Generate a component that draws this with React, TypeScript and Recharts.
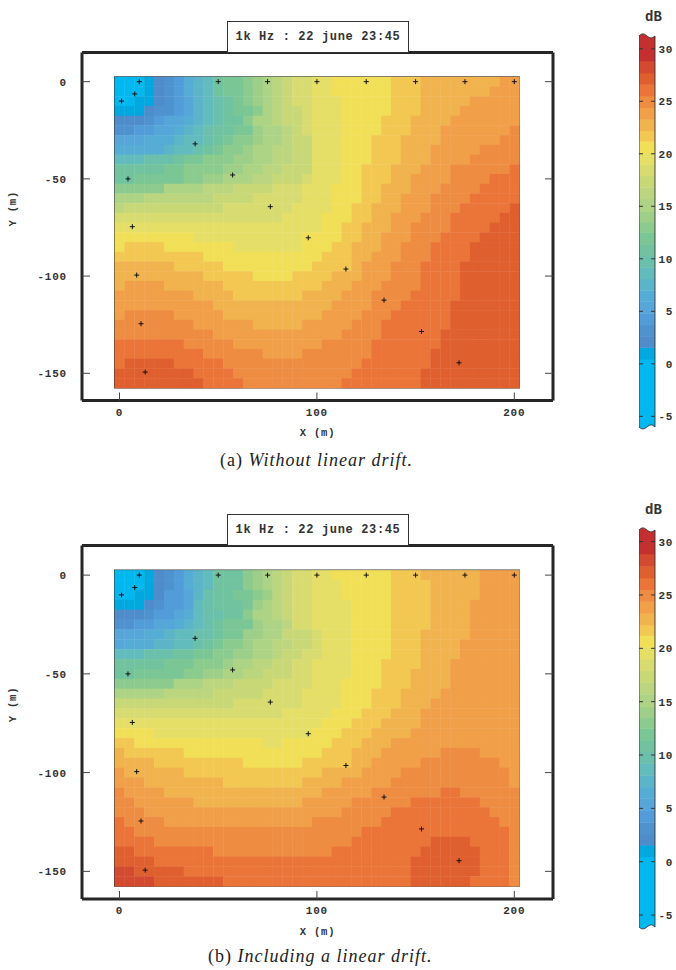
import { ScatterChart, Scatter, XAxis, YAxis, ReferenceArea, ComposedChart, Line } from 'recharts';

// colour bands, coldest first: one letter per band
const bandKeys = 'abcdefghijklmnopqrstuvwxyzAB';
const bandEdges = [-6.4, 0.45, 1.56, 2.6, 3.7, 4.8, 5.95, 7, 8.1, 9.2, 10.3, 11.4, 12.5, 13.5, 14.5, 15.7, 16.8, 17.9, 19, 20.1, 21.2, 22.2, 23.3, 24.4, 25.5, 26.6, 27.7, 28.85, 31.5];
const bandColors = [
  '#00B8F0', '#00A8E0', '#4E8CCB', '#4E92D0', '#529CDA', '#56A6DA', '#55ACD5', '#5CB4C8', '#62BBBC', '#6BC0AC',
  '#70C39E', '#7AC695', '#8CCB8E', '#9DCF88', '#ADD384', '#BBD67E', '#C9D877', '#D8DB70', '#E5DE67', '#F1DF58',
  '#F3C852', '#F0B34E', '#F19F48', '#EE8C41', '#EB7439', '#E05F2E', '#D34A2F', '#C4302F',
];

// sound level per row of the 5 m grid, y = 0 first, as runs of band letter + count
const rowsNoDrift = [
  'a3b1c1d1e1g1h1i1k1l2m1n1o1p1q1r2s2t6u3v8w2',
  'a3b1c1d1e1g1h1i1k1l2m1n1o1p1q1r2s2t6u3v7w3',
  'a2b2c1d1e1f1h1i1j1k1l1m1n1o1p1q1r2s3t5u3v5w5',
  'b3c1d2e1f1h1i1j1k1l2m1o1p1q2r1s3t5u3v4w6',
  'c3d1e1f2g1h1i1j1k2m1o2p1q2r1s3t4u3v4w7',
  'd2e2f2g1h1i1j1k2l2n1o2p1q1r1s3t4u3v3w7x1',
  'f3g3h1i2j1k1l1m2n1o2p1q2s3t3u3v4w6x2',
  'g5h1i2j1k1l1m2n1o2p2q2s3t3u3v3w5x4',
  'i3j3k1l2m3n2o2p2q2s3t3u3v3w4x5',
  'k5l2m4n2o2p2q3s3t2u3v3w3x6y1',
  'k2l5m2n2o3p2q3r1s3t2u3v2w4x4y3',
  'm5o4p3q4r3s1s2t3u2v3w3x4y4',
  'o3p7q4r5s1s2t3u2v2w3x4y5',
  'p1q10r7s2s2t2u2v3w3x3y5z1',
  'r17s3s1t3u2v2w3x3y5z2',
  's20s1t2u2v3w2x4y4z3',
  't8s11t1t3u2v2w3x3y4z4',
  't1u4t7s7t1t2u2v3w2x3y4z5',
  'u9t11t1u3v2w3x3y4z5',
  'v6u5t9u4v1w3x3y4z6',
  'v9u5t4u2u2v3w3x3y4z6',
  'v1w4v6u9u1v3w3x4y4z6',
  'w8v4u7v1v3w3x4y5z6',
  'w10v10v2w4x3y5z7',
  'w1x5w5v9v1w4x3y6z7',
  'x8w6v5w1w4x3y7z7',
  'x10w10w3x4y6z8',
  'y7x5w8w1x5y7z8',
  'y9x6w4x1x6y6z9',
  'y1z5y5x9x5y7z9',
  'z8y4x8x4y7z10',
  'z9y4x7x3y8z10',
];

const rowsWithDrift = [
  'a3b1c1d1e1g1h1i1k3m1n1o1p1q1r2s2t6u3v6w4',
  'a3b1c1d1e1g1h1i1k3m1n1o1p1q1r2s3t5u4v5w4',
  'a2b2c1e2f1h1j1k2l2m1n1p1q1r2s3t5u4v5w4',
  'b3c1d1e2f1i1j1k3l1n1o1p1q1r2s4t4u4v4w5',
  'c3d1e2f1g1i1j2k2m1o2p1q1r2s4t4u4v4w5',
  'd2e2f2g1h1i1j1k1l3n1o2p1r2s4t4u4v4w5',
  'f3g2h1i2j2k1l2n2o2q3r1s3t4u3v5w5',
  'f1g3h2i2j1k1l1m2n1o2p2q2r1s3t4u3v4w6',
  'i3j3k2l2m2n2o2p1q2r1r1s3t4u3v4w6',
  'k5l3m3n1o2p2q2r2s4t3u4v3w7',
  'k2l5m2n2o2p2q3r2s4t3u3v4w7',
  'm6o3p3q4r4s3t4u3v4w7',
  'o5p5q5r4s1s3t3u3v4w8',
  'q12r7s1s3t3u3v3w9',
  'r17s3s2t3u3v3w10',
  's20s1t3u3v4w10',
  't4s16t3u3v4w11',
  'u2t13s2t3t2u3v3w13',
  'v1u6t13t1u3v3w6x4w4',
  'v4u9t6u1u4v2w5x8w2',
  'w1v6u13u1v4w4x11w1',
  'w3v8u8v1v3w5x12w1',
  'x1w4v15v1w5x7y2x6',
  'x2w6v11w1w4x6y7x4',
  'x3w17w3x5y10x3',
  'y1x4w15x7y12x2',
  'y2x18x5y15x1',
  'y4x16x4y8z4y4x1',
  'z2y8x10x2y9z6y3x1',
  'z4y16y10z7y3x1',
  'A2z5y13y10z7y3x1',
  'A4z7y9y10z6y4x1',
];

// microphone positions, same in both panels
const micX = [10, 50, 75, 100, 125, 150, 175, 200, 1, 7.7, 38.3, 4.3, 57.3, 76.4, 6.5, 95.6, 8.7, 10.9, 13, 114.7, 134, 153, 172];
const micY = [0, 0, 0, 0, 0, 0, 0, 0, -10, -6.3, -32, -50, -48, -64.3, -74.6, -80.3, -99.5, -124.5, -149.4, -96.4, -112.4, -128.5, -144.6];

const xTicks = [0, 100, 200];
const yTicks = [0, -50, -100, -150];
const barTicks = [-5, 0, 5, 10, 15, 20, 25, 30];
const titleText = '1k Hz : 22 june 23:45';

const monoFont = '"Liberation Mono", monospace';
const xDomain: [number, number] = [-19, 219.6];
const yDomain: [number, number] = [-164, 15];
const BOX_W = 471;
const dark = '#262626';

function decodeRows(rows: string[]) {
  const cells: { x: number; y: number; band: number }[] = [];
  rows.forEach((row, r) => {
    let col = 0;
    for (const m of row.matchAll(/([a-zA-Z])(\d+)/g)) {
      for (let i = 0; i < Number(m[2]); i++) {
        cells.push({ x: col * 5, y: -r * 5, band: bandKeys.indexOf(m[1]) });
        col++;
      }
    }
  });
  return cells;
}

const mics = micX.map((x, i) => ({ x, y: micY[i] }));

function HeatPanel({ rows, top, boxH }: { rows: string[]; top: number; boxH: number }) {
  const cells = decodeRows(rows);
  const cw = (5 * BOX_W) / (xDomain[1] - xDomain[0]);
  const ch = (5 * boxH) / (yDomain[1] - yDomain[0]);
  const textProps = { fontFamily: monoFont, fontWeight: 700, fontSize: 11, fill: '#333', letterSpacing: 0.8 };
  return (
    <div style={{ position: 'absolute', left: 0, top }}>
      <ScatterChart width={676} height={boxH + 93} margin={{ top: 0, right: 0, bottom: 0, left: 0 }}>
        <XAxis
          type="number" dataKey="x" domain={xDomain} ticks={xTicks} allowDataOverflow height={40.5} interval={0}
          axisLine={{ stroke: dark, strokeWidth: 3 }} tickLine={false} tickSize={0} tickMargin={0}
          tick={(p: any) => (
            <g>
              <line x1={p.x} x2={p.x} y1={p.y} y2={p.y - 8} stroke="#444" />
              <text x={p.x} y={p.y + 15} textAnchor="middle" {...textProps}>{p.payload.value}</text>
            </g>
          )}
          label={{ value: 'X (m)', position: 'insideBottom', offset: 5, ...textProps, fontSize: 10.5 }}
        />
        <XAxis
          xAxisId="top" orientation="top" type="number" domain={xDomain} ticks={xTicks} allowDataOverflow height={52.5} interval={0}
          axisLine={{ stroke: dark, strokeWidth: 3 }} tickLine={false} tickSize={0} tickMargin={0}
          tick={(p: any) => <line x1={p.x} x2={p.x} y1={p.y} y2={p.y + 7} stroke="#444" />}
        />
        <YAxis
          type="number" dataKey="y" domain={yDomain} ticks={yTicks} allowDataOverflow width={82} interval={0}
          axisLine={{ stroke: dark, strokeWidth: 3 }} tickLine={false} tickSize={0} tickMargin={0}
          tick={(p: any) => (
            <g>
              <line x1={p.x} x2={p.x + 8} y1={p.y} y2={p.y} stroke="#444" />
              <text x={p.x - 15} y={p.y + 4} textAnchor="end" {...textProps}>{p.payload.value}</text>
            </g>
          )}
          label={{ value: 'Y (m)', angle: -90, position: 'insideLeft', offset: 12, ...textProps, fontSize: 10.5 }}
        />
        <YAxis
          yAxisId="right" orientation="right" type="number" domain={yDomain} ticks={yTicks} allowDataOverflow width={123} interval={0}
          axisLine={{ stroke: dark, strokeWidth: 3 }} tickLine={false} tickSize={0} tickMargin={0}
          tick={(p: any) => <line x1={p.x} x2={p.x - 8} y1={p.y} y2={p.y} stroke="#444" />}
        />
        <Scatter
          data={cells}
          isAnimationActive={false}
          shape={(p: any) => (
            <rect
              x={p.cx - cw / 2} y={p.cy - ch / 2} width={cw + 0.4} height={ch + 0.4}
              fill={bandColors[p.payload.band]}
            />
          )}
        />
        <ReferenceArea x1={-2.5} x2={202.5} y1={-157.5} y2={2.5} fill="none" stroke="#3a3a3a" strokeWidth={1.2} />
        <Scatter
          data={mics}
          isAnimationActive={false}
          shape={(p: any) => (
            <path d={`M${p.cx - 2.5} ${p.cy}H${p.cx + 2.5}M${p.cx} ${p.cy - 2.5}V${p.cy + 2.5}`} stroke="#111" strokeWidth={1} fill="none" />
          )}
        />
      </ScatterChart>
    </div>
  );
}

const barData = [{ x: 0, y: 0 }, { x: 1, y: 0 }];

function ColorBar({ top, height, domain }: { top: number; height: number; domain: [number, number] }) {
  const wave = (x: number, w: number, y: number, dir: number) =>
    `C${x + w * 0.2} ${y - 3.5 * dir} ${x + w * 0.35} ${y - 2 * dir} ${x + w * 0.5} ${y} S${x + w * 0.8} ${y + 3 * dir} ${x + w} ${y}`;
  return (
    <div style={{ position: 'absolute', left: 639, top }}>
      <ComposedChart width={37} height={height} data={barData} margin={{ top: 0, right: 0, bottom: 0, left: 0 }}>
        <XAxis type="number" dataKey="x" domain={[0, 1]} hide />
        <YAxis
          orientation="right" type="number" domain={domain} ticks={barTicks} allowDataOverflow width={21} interval={0}
          axisLine={false} tickLine={false} tickSize={0} tickMargin={0}
          tick={(p: any) => (
            <g>
              <line x1={p.x - 16} x2={p.x - 12} y1={p.y} y2={p.y} stroke="#333" />
              <line x1={p.x - 4} x2={p.x} y1={p.y} y2={p.y} stroke="#333" />
              <text x={p.x + 18} y={p.y + 4} textAnchor="end" fontFamily={monoFont} fontWeight={700} fontSize={11} fill="#333" letterSpacing={0.6}>
                {p.payload.value}
              </text>
            </g>
          )}
        />
        {bandColors.map((c, i) => {
          const lo = i === 0 ? domain[0] : bandEdges[i];
          const hi = i === bandColors.length - 1 ? domain[1] : bandEdges[i + 1];
          const first = i === 0;
          const last = i === bandColors.length - 1;
          return (
            <ReferenceArea
              key={c}
              x1={0} x2={1} y1={lo} y2={hi}
              shape={(p: any) =>
                first ? (
                  <path d={`M${p.x} ${p.y}H${p.x + p.width}V${p.y + p.height - 3}${wave(p.x + p.width, -p.width, p.y + p.height - 3, 1)}Z`} fill={c} />
                ) : last ? (
                  <path d={`M${p.x} ${p.y + 3}${wave(p.x, p.width, p.y + 3, 1)}V${p.y + p.height + 0.4}H${p.x}Z`} fill={c} />
                ) : (
                  <rect x={p.x} y={p.y} width={p.width} height={p.height + 0.4} fill={c} />
                )
              }
            />
          );
        })}
        <ReferenceArea
          x1={0} x2={1} y1={domain[0]} y2={domain[1]}
          shape={(p: any) => (
            <path
              d={`M${p.x} ${p.y + 3}${wave(p.x, p.width, p.y + 3, 1)}V${p.y + p.height - 3}${wave(p.x + p.width, -p.width, p.y + p.height - 3, 1)}Z`}
              fill="none" stroke="#333" strokeWidth={0.9}
            />
          )}
        />
        <Line dataKey="y" hide isAnimationActive={false} />
      </ComposedChart>
    </div>
  );
}

function TitleBox({ top }: { top: number }) {
  return (
    <div
      style={{
        position: 'absolute', left: 227, top, width: 180, height: 30, border: '1px solid #333', background: '#fff',
        textAlign: 'center', lineHeight: '30px', fontFamily: monoFont, fontWeight: 700, fontSize: 12, color: '#333', letterSpacing: 0.65,
      }}
    >
      {titleText}
    </div>
  );
}

function Caption({ top, tag, text, left }: { top: number; tag: string; text: string; left: number }) {
  return (
    <div style={{ position: 'absolute', left, top, fontFamily: '"Liberation Serif", serif', fontSize: 18, letterSpacing: 1, color: '#222', whiteSpace: 'nowrap' }}>
      {tag} <i>{text}</i>
    </div>
  );
}

function BarLabel({ top }: { top: number }) {
  return (
    <div style={{ position: 'absolute', left: 645, top, fontFamily: monoFont, fontWeight: 700, fontSize: 14, color: '#333' }}>dB</div>
  );
}

export default function App() {
  return (
    <div style={{ position: 'absolute', left: 0, top: 0, width: 676, height: 970, background: '#fff', overflow: 'hidden' }}>
      <HeatPanel rows={rowsNoDrift} top={0} boxH={348} />
      <TitleBox top={21} />
      <Caption top={450} left={220} tag="(a)" text="Without linear drift." />
      <BarLabel top={9} />
      <ColorBar top={33} height={397} domain={[-6.3, 31.5]} />

      <HeatPanel rows={rowsWithDrift} top={493} boxH={353.5} />
      <TitleBox top={514} />
      <Caption top={946} left={208} tag="(b)" text="Including a linear drift." />
      <BarLabel top={502} />
      <ColorBar top={527} height={403} domain={[-6.4, 31.37]} />
    </div>
  );
}
